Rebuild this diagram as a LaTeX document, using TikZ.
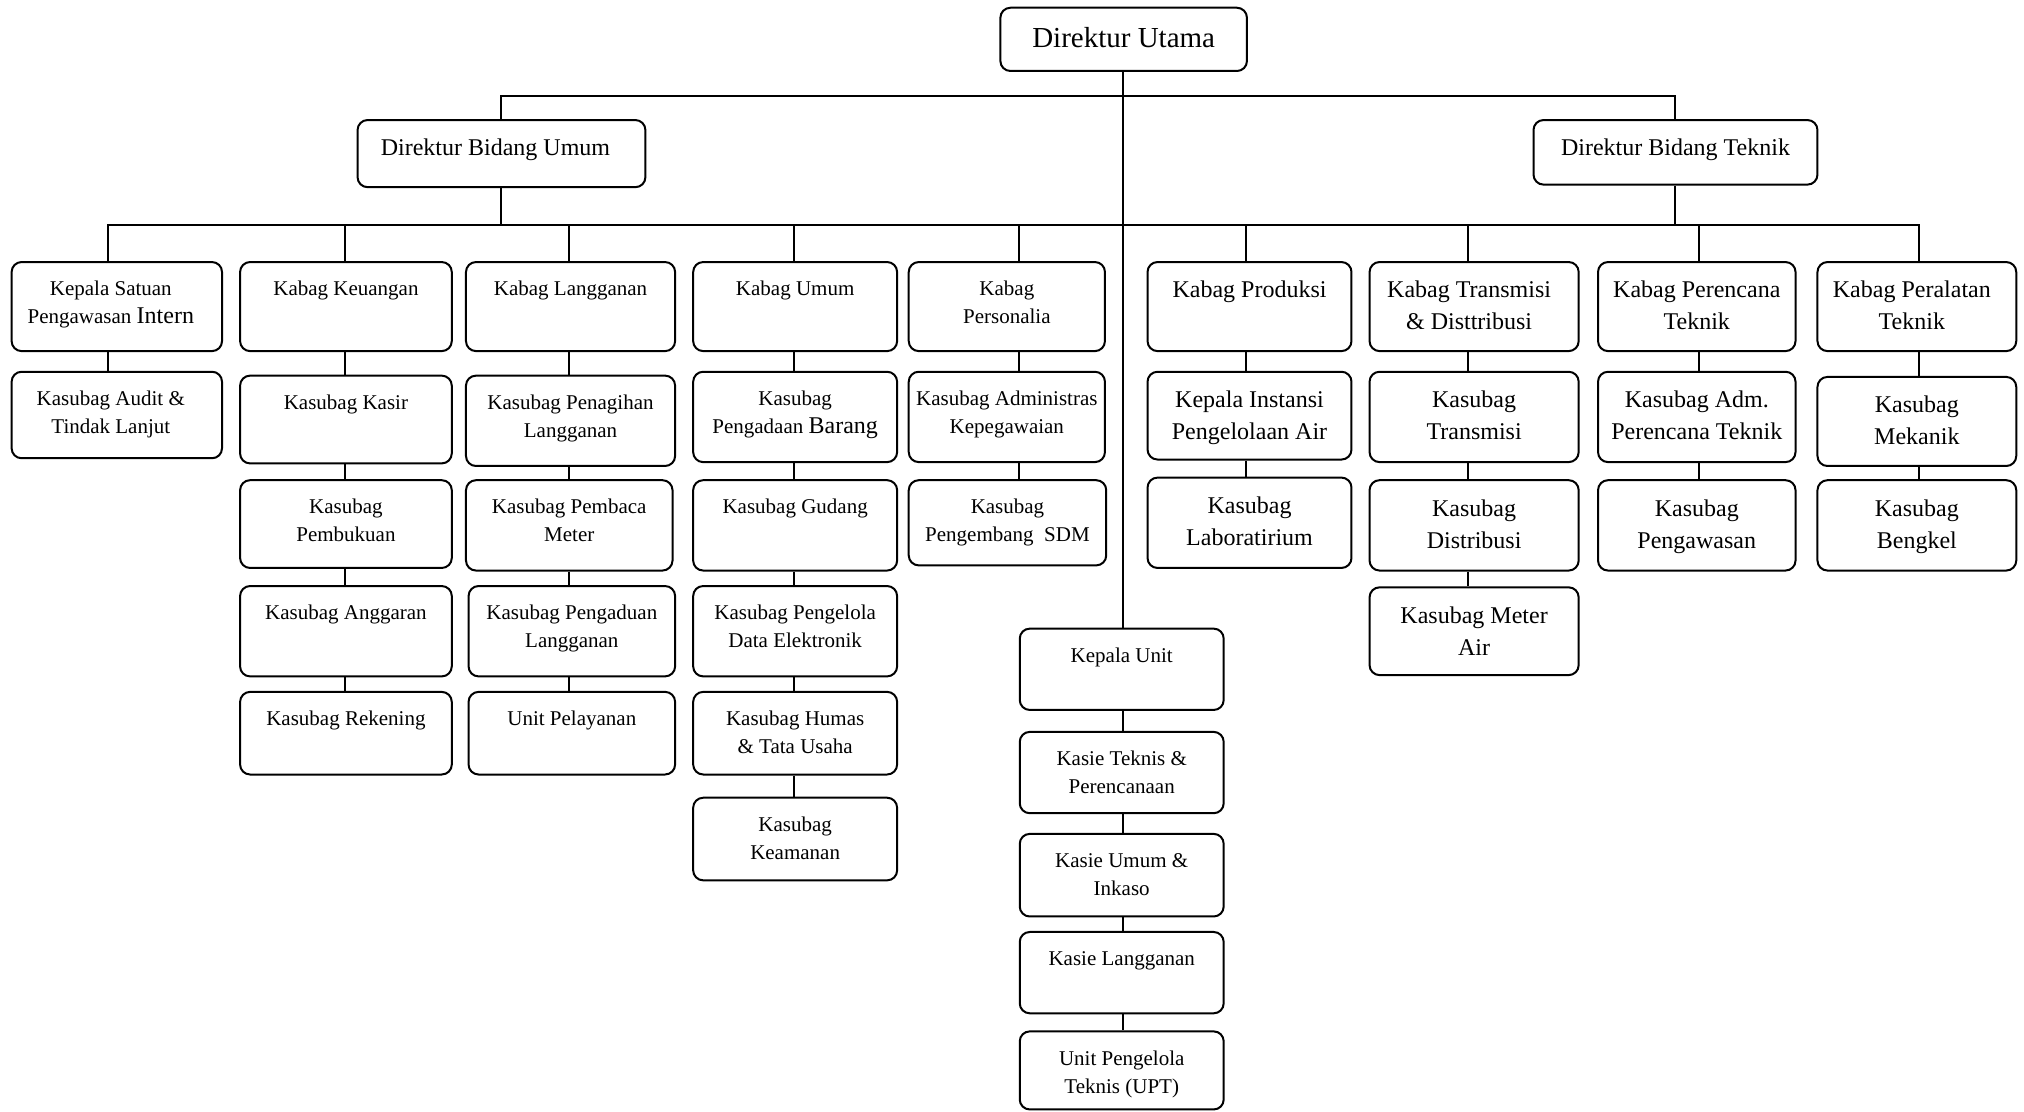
\documentclass[tikz,border=0pt]{standalone}
\usepackage{fontspec}
\setmainfont{Liberation Serif}
\usetikzlibrary{fit}
\newcommand{\bigw}[1]{{\fontsize{24}{28}\selectfont #1}}
\begin{document}
\begin{tikzpicture}[x=1.2908pt,y=-1.2908pt,
  box/.style={draw, line width=2pt, rounded corners=10pt, inner sep=0pt},
  conn/.style={line width=2pt},
  la/.style={anchor=north, inner sep=0pt, yshift=-20pt, align=center, font=\fontsize{21}{28}\selectfont},
  lb/.style={anchor=north, inner sep=0pt, yshift=-20pt, align=center, font=\fontsize{24}{32}\selectfont},
  lc/.style={anchor=north, inner sep=0pt, yshift=-20pt, align=center, font=\fontsize{29}{35}\selectfont},
]
\newcommand{\bx}[7][la]{\node[box, fit={(#3,#4) (#5,#6)}, label={[#1]north:{#7}}] (#2) {};}
\newcommand{\vl}[3]{\draw[conn] (#2.south -| #1) -- (#3.north -| #1);}
\useasboundingbox (0,0) rectangle (1568,861);

% column x positions
\coordinate (ca) at (84,0);
\coordinate (cb) at (267,0);
\coordinate (cc) at (441,0);
\coordinate (cd) at (615,0);
\coordinate (ce) at (789.5,0);
\coordinate (cm) at (870,0);
\coordinate (cf) at (965,0);
\coordinate (cg) at (1137,0);
\coordinate (ch) at (1316,0);
\coordinate (ci) at (1487,0);
\coordinate (tb) at (0,74);
\coordinate (rb) at (0,174);

% top
\bx[lc]{du}{775}{6}{966}{55}{Direktur Utama}
\bx[lb,xshift=-6pt]{dbu}{277}{93}{500}{145}{Direktur Bidang Umum}
\bx[lb]{dbt}{1188}{93}{1408}{143}{Direktur Bidang Teknik}

% row 1
\bx[la,xshift=-6pt]{ksp}{9}{203}{172}{272}{Kepala Satuan\\Pengawasan \bigw{Intern}}
\bx{kk}{186}{203}{350}{272}{Kabag Keuangan}
\bx{kl}{361}{203}{523}{272}{Kabag Langganan}
\bx{kum}{537}{203}{695}{272}{Kabag Umum}
\bx{kpe}{704}{203}{856}{272}{Kabag\\Personalia}
\bx[lb]{kpr}{889}{203}{1047}{272}{Kabag Produksi}
\bx[lb,xshift=-5pt]{ktd}{1061}{203}{1223}{272}{Kabag Transmisi\\\& Disttribusi}
\bx[lb]{kpt}{1238}{203}{1391}{272}{Kabag Perencana\\Teknik}
\bx[lb,xshift=-5pt]{kpa}{1408}{203}{1562}{272}{Kabag Peralatan\\Teknik}

% row 2
\bx[la,xshift=-6pt]{ksa}{9}{288}{172}{355}{Kasubag Audit \&\\Tindak Lanjut}
\bx{kks}{186}{291}{350}{359}{Kasubag Kasir}
\bx{kpl}{361}{291}{523}{361}{Kasubag Penagihan\\Langganan}
\bx{kpb}{537}{288}{695}{358}{Kasubag\\Pengadaan \bigw{Barang}}
\bx{kak}{704}{288}{856}{358}{Kasubag Administras\\Kepegawaian}
\bx[lb]{kia}{889}{288}{1047}{356}{Kepala Instansi\\Pengelolaan Air}
\bx[lb]{kst}{1061}{288}{1223}{358}{Kasubag\\Transmisi}
\bx[lb]{kap}{1238}{288}{1391}{358}{Kasubag Adm.\\Perencana Teknik}
\bx[lb]{kme}{1408}{292}{1562}{361}{Kasubag\\Mekanik}

% row 3
\bx{kpm}{186}{372}{350}{440}{Kasubag\\Pembukuan}
\bx{kpmt}{361}{372}{521}{442}{Kasubag Pembaca\\Meter}
\bx{kg}{537}{372}{695}{442}{Kasubag Gudang}
\bx{ksdm}{704}{372}{857}{438}{Kasubag\\Pengembang\ \ SDM}
\bx[lb]{klab}{889}{370}{1047}{440}{Kasubag\\Laboratirium}
\bx[lb]{kdi}{1061}{372}{1223}{442}{Kasubag\\Distribusi}
\bx[lb]{kpw}{1238}{372}{1391}{442}{Kasubag\\Pengawasan}
\bx[lb]{kbe}{1408}{372}{1562}{442}{Kasubag\\Bengkel}

% row 4
\bx{kang}{186}{454}{350}{524}{Kasubag Anggaran}
\bx{kpgd}{363}{454}{523}{524}{Kasubag Pengaduan\\Langganan}
\bx{kpde}{537}{454}{695}{524}{Kasubag Pengelola\\Data Elektronik}
\bx[lb]{kma}{1061}{455}{1223}{523}{Kasubag Meter\\Air}

% row 5-6
\bx{kre}{186}{536}{350}{600}{Kasubag Rekening}
\bx{up}{363}{536}{523}{600}{Unit Pelayanan}
\bx{khu}{537}{536}{695}{600}{Kasubag Humas\\\& Tata Usaha}
\bx{kke}{537}{618}{695}{682}{Kasubag\\Keamanan}

% centre column
\bx{kun}{790}{487}{948}{550}{Kepala Unit}
\bx{ktp}{790}{567}{948}{630}{Kasie Teknis \&\\Perencanaan}
\bx{kui}{790}{646}{948}{710}{Kasie Umum \&\\Inkaso}
\bx{kla}{790}{722}{948}{785}{Kasie Langganan}
\bx{upt}{790}{799}{948}{859.5}{Unit Pengelola\\Teknis (UPT)}

% connectors: top
\draw[conn] (du.south -| cm) -- (kun.north -| cm);
\draw[conn] (dbu.north) -- (dbu.north |- tb) -- (dbt.north |- tb) -- (dbt.north);
\draw[conn] (dbu.south) -- (dbu.south |- rb);
\draw[conn] (dbt.south) -- (dbt.south |- rb);
\draw[conn] (ksp.north -| ca) -- (rb -| ca) -- (rb -| ci) -- (kpa.north -| ci);
\draw[conn] (kk.north -| cb) -- (rb -| cb);
\draw[conn] (kl.north -| cc) -- (rb -| cc);
\draw[conn] (kum.north -| cd) -- (rb -| cd);
\draw[conn] (kpe.north -| ce) -- (rb -| ce);
\draw[conn] (kpr.north -| cf) -- (rb -| cf);
\draw[conn] (ktd.north -| cg) -- (rb -| cg);
\draw[conn] (kpt.north -| ch) -- (rb -| ch);

% column chains
\vl{ca}{ksp}{ksa}
\vl{cb}{kk}{kks} \vl{cb}{kks}{kpm} \vl{cb}{kpm}{kang} \vl{cb}{kang}{kre}
\vl{cc}{kl}{kpl} \vl{cc}{kpl}{kpmt} \vl{cc}{kpmt}{kpgd} \vl{cc}{kpgd}{up}
\vl{cd}{kum}{kpb} \vl{cd}{kpb}{kg} \vl{cd}{kg}{kpde} \vl{cd}{kpde}{khu} \vl{cd}{khu}{kke}
\vl{ce}{kpe}{kak} \vl{ce}{kak}{ksdm}
\vl{cf}{kpr}{kia} \vl{cf}{kia}{klab}
\vl{cg}{ktd}{kst} \vl{cg}{kst}{kdi} \vl{cg}{kdi}{kma}
\vl{ch}{kpt}{kap} \vl{ch}{kap}{kpw}
\vl{ci}{kpa}{kme} \vl{ci}{kme}{kbe}
\vl{cm}{kun}{ktp} \vl{cm}{ktp}{kui} \vl{cm}{kui}{kla} \vl{cm}{kla}{upt}
\end{tikzpicture}
\end{document}
